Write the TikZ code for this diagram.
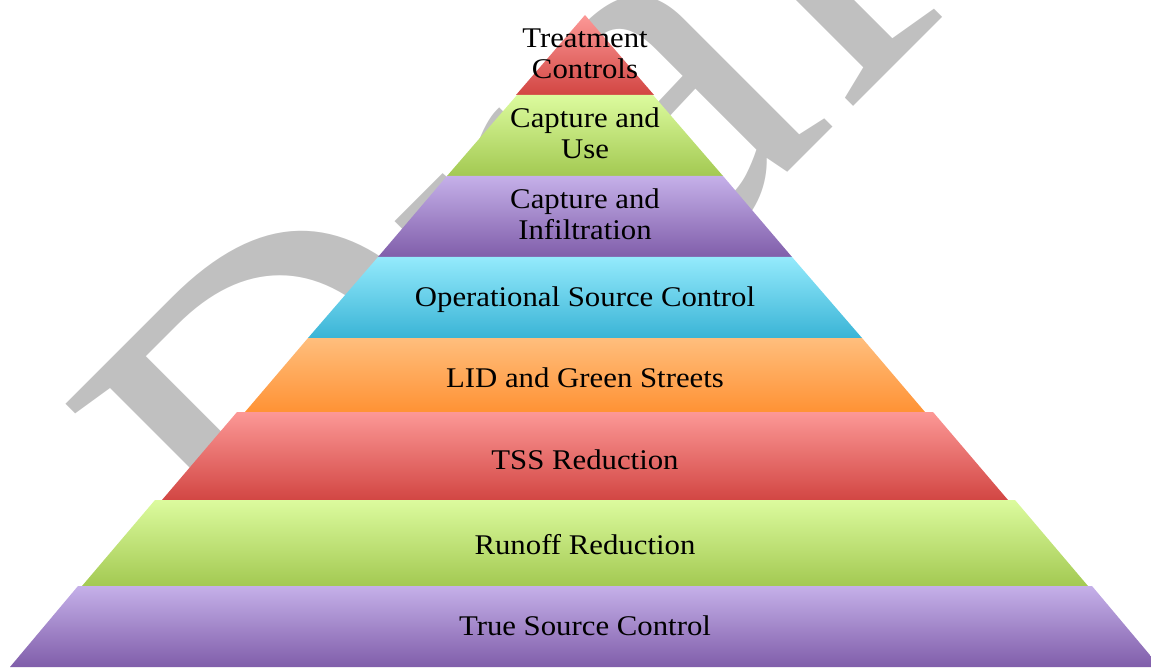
\documentclass[tikz,border=0pt]{standalone}
\usepackage{fontspec}
\setmainfont[FakeStretch=1.08]{Liberation Serif}
\newfontfamily\wmfont[FakeStretch=0.96]{Liberation Serif}

\definecolor{redtop}{RGB}{252,152,150}
\definecolor{redbot}{RGB}{210,70,67}
\definecolor{greentop}{RGB}{220,251,158}
\definecolor{greenbot}{RGB}{163,201,82}
\definecolor{purptop}{RGB}{197,176,233}
\definecolor{purpbot}{RGB}{128,94,170}
\definecolor{cyantop}{RGB}{148,234,252}
\definecolor{cyanbot}{RGB}{58,180,214}
\definecolor{orangetop}{RGB}{255,190,125}
\definecolor{orangebot}{RGB}{255,146,52}
\definecolor{wmgray}{RGB}{192,192,192}

\begin{document}
\begin{tikzpicture} [
    x=1pt, y=-1pt,
    redlayer/.style    = { top color=redtop, bottom color=redbot },
    greenlayer/.style  = { top color=greentop, bottom color=greenbot },
    purplayer/.style   = { top color=purptop, bottom color=purpbot },
    cyanlayer/.style   = { top color=cyantop, bottom color=cyanbot },
    orangelayer/.style = { top color=orangetop, bottom color=orangebot },
    label/.style       = { font=\fontsize{28.5}{31}\selectfont, align=center,
                           inner sep=0pt, anchor=base },
  ]
  \useasboundingbox (0,0) rectangle (1151,668);
  \clip (0,0) rectangle (1151,668);

  % watermark behind the pyramid
  \node (draft) [rotate=45, anchor=base west, inner sep=0pt, text=wmgray,
                 font=\wmfont\fontsize{529}{529}\selectfont] at (300,660) {Draft};

  % layers, top to bottom
  \shade[redlayer]    (585,15) -- (654,95) -- (516,95) -- cycle;
  \shade[greenlayer]  (517,95) -- (653,95) -- (723,176) -- (447,176) -- cycle;
  \shade[purplayer]   (447,176) -- (723,176) -- (792,257) -- (378,257) -- cycle;
  \shade[cyanlayer]   (378,257) -- (792,257) -- (862,338) -- (308,338) -- cycle;
  \shade[orangelayer] (308,338) -- (862,338) -- (925,412) -- (245,412) -- cycle;
  \shade[redlayer]    (237,412) -- (933,412) -- (1008,500) -- (162,500) -- cycle;
  \shade[greenlayer]  (155,500) -- (1015,500) -- (1088,586) -- (82,586) -- cycle;
  \shade[purplayer]   (78,586) -- (1092,586) -- (1160,667) -- (10,667) -- cycle;

  % labels (base = last line)
  \node (treat)   [label] at (585,79)  {Treatment\\Controls};
  \node (capuse)  [label] at (585,159) {Capture and\\Use};
  \node (capinf)  [label] at (585,240) {Capture and\\Infiltration};
  \node (opsrc)   [label] at (585,307) {Operational Source Control};
  \node (lid)     [label] at (585,387) {LID and Green Streets};
  \node (tss)     [label] at (585,469) {TSS Reduction};
  \node (runoff)  [label] at (585,554) {Runoff Reduction};
  \node (truesrc) [label] at (585,635) {True Source Control};
\end{tikzpicture}
\end{document}
